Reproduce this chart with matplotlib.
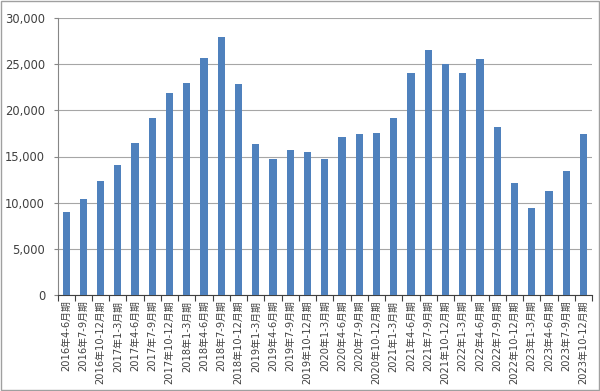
import numpy as np
import matplotlib.pyplot as plt

plt.rcParams['font.family'] = ['DejaVu Sans', 'Noto Sans CJK JP']

# 四半期ラベル
quarters = ["2016年4-6月期", "2016年7-9月期", "2016年10-12月期",
            "2017年1-3月期", "2017年4-6月期", "2017年7-9月期", "2017年10-12月期",
            "2018年1-3月期", "2018年4-6月期", "2018年7-9月期", "2018年10-12月期",
            "2019年1-3月期", "2019年4-6月期", "2019年7-9月期", "2019年10-12月期",
            "2020年1-3月期", "2020年4-6月期", "2020年7-9月期", "2020年10-12月期",
            "2021年1-3月期", "2021年4-6月期", "2021年7-9月期", "2021年10-12月期",
            "2022年1-3月期", "2022年4-6月期", "2022年7-9月期", "2022年10-12月期",
            "2023年1-3月期", "2023年4-6月期", "2023年7-9月期", "2023年10-12月期"]
values = [9000, 10430, 12380, 14040, 16430, 19170, 21840,
          22990, 25630, 27980, 22850, 16320, 14760, 15700, 15450,
          14760, 17080, 17440, 17580, 19170, 24080, 26540, 24980,
          24010, 25600, 18160, 12170, 9390, 11300, 13390, 17440]
yticks = [0, 5000, 10000, 15000, 20000, 25000, 30000]

fig = plt.figure(figsize=(6, 3.91), dpi=100)
ax = fig.add_axes([57.5 / 600, 1 - 295 / 391, (592 - 57.5) / 600, (295 - 18) / 391])

x = np.arange(len(values))
ax.bar(x, values, width=0.42, color='#4F81BD', zorder=3)

ax.set_xlim(-0.5, len(values) - 0.5)
ax.set_ylim(0, 30000)
ax.set_yticks(yticks)
ax.set_yticklabels([f"{v:,}" for v in yticks], fontsize=8.3, color='#404040')
ax.grid(axis='y', color='#a6a6a6', linewidth=0.8, zorder=0)

ax.set_xticks(x)
ax.set_xticklabels(quarters, rotation=90, fontsize=7.1, color='#404040')
ax.tick_params(axis='x', length=0, pad=4)
ax.set_xticks(np.arange(len(values) + 1) - 0.5, minor=True)
ax.tick_params(axis='x', which='minor', length=4, color='#404040', width=0.8)
ax.tick_params(axis='y', length=3, color='#868686', width=0.8, pad=6)

for s in ['top', 'right']:
    ax.spines[s].set_visible(False)
ax.spines['left'].set_color('#868686')
ax.spines['bottom'].set_color('#404040')

# 外枠
fig.patches.append(plt.Rectangle((0.002, 0.002), 0.996, 0.996, transform=fig.transFigure,
                                 fill=False, edgecolor='#a0a0a0', linewidth=1))

fig.savefig('out.png', dpi=100)
